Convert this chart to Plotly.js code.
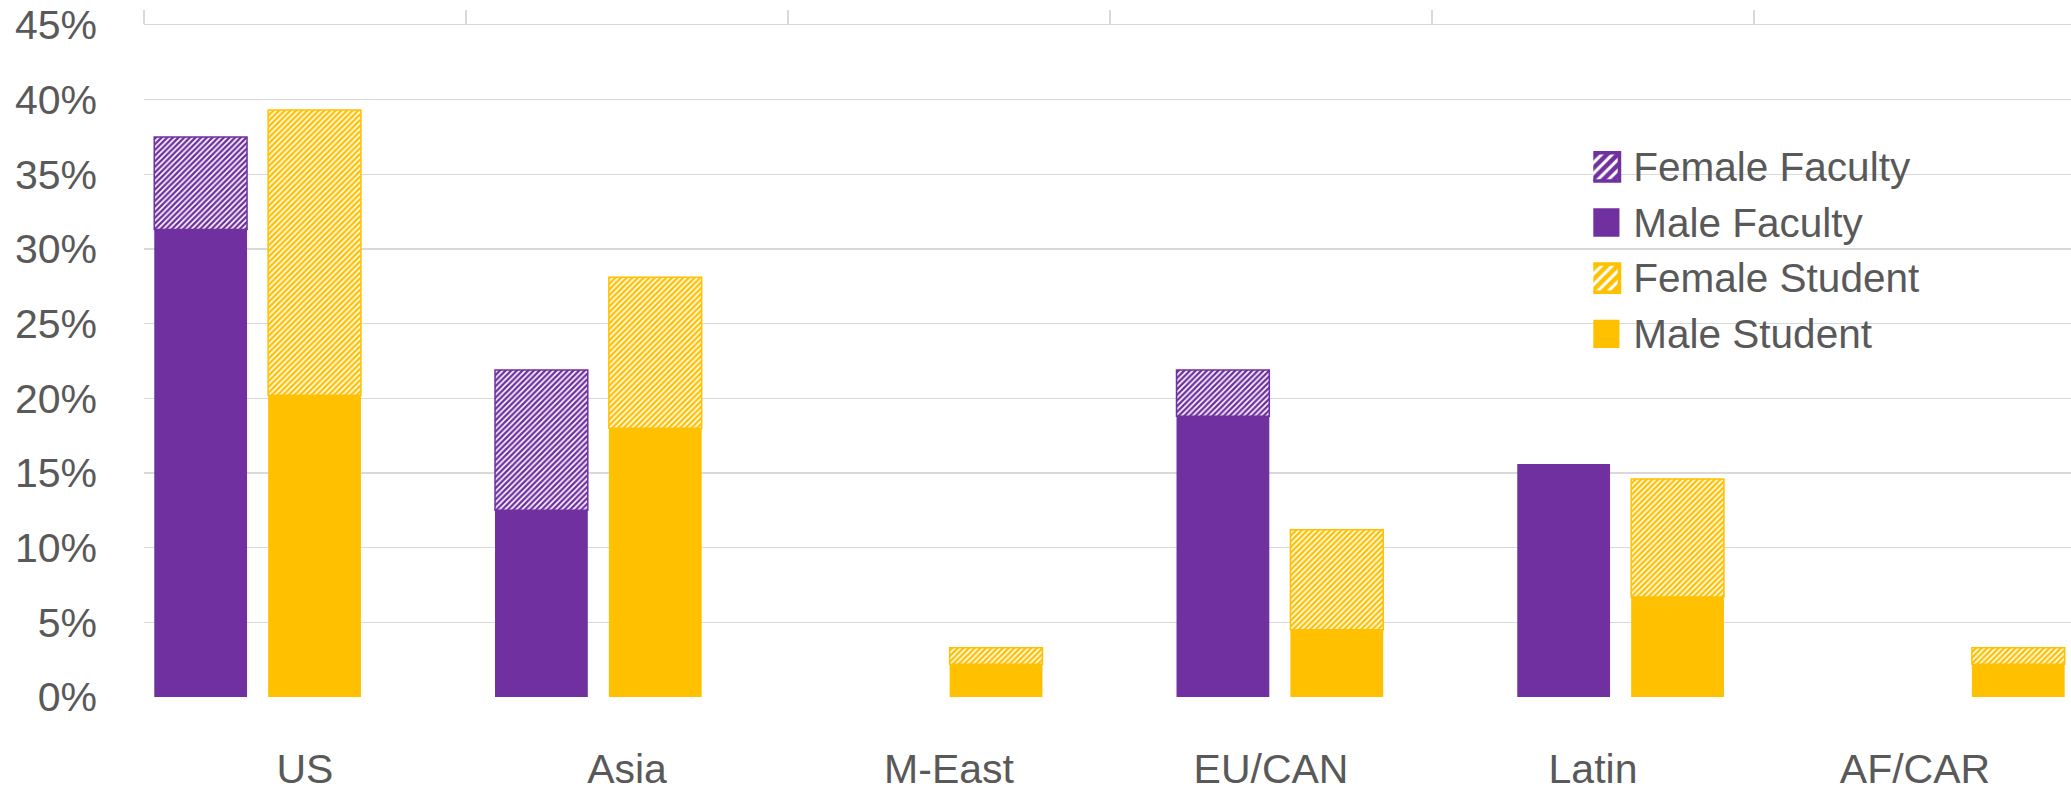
<!DOCTYPE html>
<html>
<head>
<meta charset="utf-8">
<script src="https://cdn.plot.ly/plotly-3.0.1.min.js"></script>
<style>
  html, body { margin: 0; padding: 0; background: #ffffff; }
  #chart { width: 2071px; height: 793px; }
</style>
</head>
<body>
<div id="chart"></div>
<script>
// Regions along the horizontal axis
const regions = ['US', 'Asia', 'M-East', 'EU/CAN', 'Latin', 'AF/CAR'];

// Share of each group by region, in percent (segment heights; female sits on top of male)
const maleFaculty    = [31.3, 12.5, 0.0, 18.8, 15.6, 0.0];
const femaleFaculty  = [6.2, 9.4, 0.0, 3.1, 0.0, 0.0];
const maleStudent    = [20.2, 18.0, 2.2, 4.5, 6.7, 2.2];
const femaleStudent  = [19.1, 10.1, 1.1, 6.7, 7.9, 1.1];

// Value axis ticks
const yTicks = [0, 5, 10, 15, 20, 25, 30, 35, 40, 45];

const PURPLE = '#7030A0';
const GOLD = '#FFC000';
const GRID = '#d9d9d9';
const TEXT = '#595959';
const FONT = '"Liberation Sans", Arial, sans-serif';

// Bar geometry in category units
const BAR_W = 0.2723;
const FAC_OFF = -0.3034;
const STU_OFF = 0.0308;

// Outline only the segments that have a height
function edge(vals, w) { return vals.map(v => v > 0 ? w : 0); }

function hatch(color, vals) {
  return {
    color: color,
    pattern: { shape: '/', fillmode: 'replace', bgcolor: '#ffffff', fgcolor: color, size: 4, solidity: 0.6 },
    line: { color: color, width: edge(vals, 1.5) }
  };
}

const labelRange = [-0.5, 5.4845];
const centers = regions.map((_, i) => i);
const boundaries = regions.map((_, i) => i - 0.5).concat([regions.length - 0.5]);

const traces = [
  { type: 'bar', name: 'Female Faculty', x: regions, y: femaleFaculty, base: maleFaculty,
    width: BAR_W, offset: FAC_OFF, marker: hatch(PURPLE, femaleFaculty), hoverinfo: 'skip' },
  { type: 'bar', name: 'Male Faculty', x: regions, y: maleFaculty,
    width: BAR_W, offset: FAC_OFF, marker: { color: PURPLE, line: { width: 0 } }, hoverinfo: 'skip' },
  { type: 'bar', name: 'Female Student', x: regions, y: femaleStudent, base: maleStudent,
    width: BAR_W, offset: STU_OFF, marker: hatch(GOLD, femaleStudent), hoverinfo: 'skip' },
  { type: 'bar', name: 'Male Student', x: regions, y: maleStudent,
    width: BAR_W, offset: STU_OFF, marker: { color: GOLD, line: { width: 0 } }, hoverinfo: 'skip' },
  // empty traces so the label axis and the top boundary axis get drawn
  { type: 'scatter', mode: 'none', x: [], y: [], xaxis: 'x2', showlegend: false, hoverinfo: 'skip' },
  { type: 'scatter', mode: 'none', x: [], y: [], xaxis: 'x3', showlegend: false, hoverinfo: 'skip' }
];

const layout = {
  width: 2071,
  height: 793,
  margin: { l: 144, r: 0, t: 25, b: 96, pad: 0 },
  paper_bgcolor: '#ffffff',
  plot_bgcolor: '#ffffff',
  barmode: 'overlay',
  font: { family: FONT, color: TEXT, size: 41 },
  showlegend: true,
  legend: {
    x: 0.7521, xanchor: 'left',
    y: 0.840, yanchor: 'top',
    traceorder: 'normal',
    bgcolor: 'rgba(0,0,0,0)',
    font: { family: FONT, size: 40.5, color: TEXT },
    tracegroupgap: 0
  },
  xaxis: {
    type: 'category',
    range: [-0.3335, 5.3216],
    showticklabels: false, showgrid: false, zeroline: false, showline: false, ticks: ''
  },
  xaxis2: {
    overlaying: 'x', side: 'bottom', anchor: 'y',
    type: 'linear', range: labelRange,
    tickmode: 'array', tickvals: centers, ticktext: regions,
    showgrid: false, zeroline: false, showline: false, ticks: '',
    ticklabelstandoff: 44,
    tickfont: { family: FONT, size: 41, color: TEXT }
  },
  xaxis3: {
    overlaying: 'x', side: 'top', anchor: 'y',
    type: 'linear', range: labelRange,
    tickmode: 'array', tickvals: boundaries,
    showticklabels: false, showgrid: false, zeroline: false,
    showline: true, linecolor: GRID, linewidth: 1.5,
    ticks: 'outside', ticklen: 14, tickwidth: 1.5, tickcolor: GRID
  },
  yaxis: {
    range: [0, 45],
    tickmode: 'array', tickvals: yTicks, ticktext: yTicks.map(v => v + '%'),
    showgrid: true, gridcolor: GRID, gridwidth: 1.5,
    zeroline: false, showline: false, ticks: '',
    ticklabelstandoff: 46, ticklabeloverflow: 'allow',
    tickfont: { family: FONT, size: 41, color: TEXT }
  }
};

Plotly.newPlot('chart', traces, layout, { staticPlot: true, displayModeBar: false }).then(function (gd) {
  // Enlarge the legend swatches so they stand as tall as the legend text
  gd.querySelectorAll('.legend .legendpoints path').forEach(function (p) {
    p.setAttribute('transform', 'translate(12,1.5) scale(2.36)');
  });
});
</script>
</body>
</html>
